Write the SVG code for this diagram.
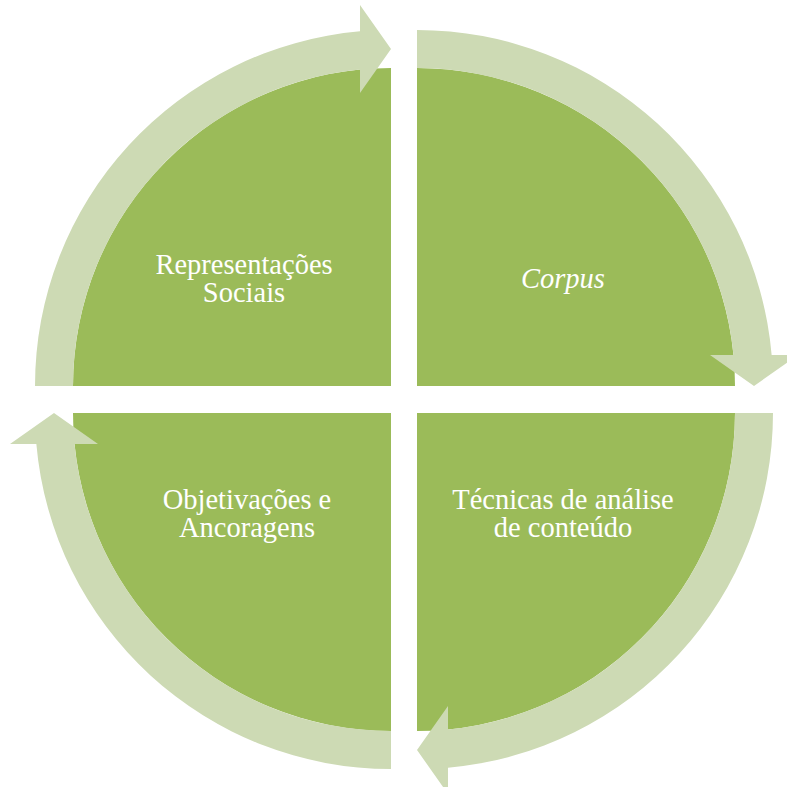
<svg xmlns="http://www.w3.org/2000/svg" width="787" height="787" viewBox="0 0 787 787">
  <style>
    .sector { fill: #9BBB59; }
    .arrow { fill: #CDDAB4; }
    .label { fill: #FFFFFF; font-family: "Liberation Serif", "Times New Roman", serif; font-size: 28.5px; text-anchor: middle; }
  </style>
  <defs>
    <path id="sectorShape" d="M 0,0 L -318,0 A 318 318 0 0 1 0,-318 Z"/>
    <path id="arrowShape" d="M -356,0 A 356 356 0 0 1 -31,-354.65 L -31,-381 L 0,-337 L -31,-293 L -31,-316.49 A 318 318 0 0 0 -318,0 Z"/>
  </defs>
  <rect width="787" height="787" fill="#FFFFFF"/>
  <g id="node-representacoes">
    <use href="#sectorShape" class="sector" transform="translate(391,386)"/>
    <text class="label" x="244" y="274">Representações</text>
    <text class="label" x="244" y="302">Sociais</text>
  </g>
  <g id="node-corpus">
    <use href="#sectorShape" class="sector" transform="translate(417,386) rotate(90)"/>
    <text class="label" x="563" y="288" font-style="italic">Corpus</text>
  </g>
  <g id="node-tecnicas">
    <use href="#sectorShape" class="sector" transform="translate(417,413) rotate(180)"/>
    <text class="label" x="563" y="509">Técnicas de análise</text>
    <text class="label" x="563" y="537">de conteúdo</text>
  </g>
  <g id="node-objetivacoes">
    <use href="#sectorShape" class="sector" transform="translate(391,413) rotate(270)"/>
    <text class="label" x="247" y="509">Objetivações e</text>
    <text class="label" x="247" y="537">Ancoragens</text>
  </g>
  <g id="connectors">
    <use href="#arrowShape" class="arrow" transform="translate(391,386)"/>
    <use href="#arrowShape" class="arrow" transform="translate(417,386) rotate(90)"/>
    <use href="#arrowShape" class="arrow" transform="translate(417,413) rotate(180)"/>
    <use href="#arrowShape" class="arrow" transform="translate(391,413) rotate(270)"/>
  </g>
</svg>
